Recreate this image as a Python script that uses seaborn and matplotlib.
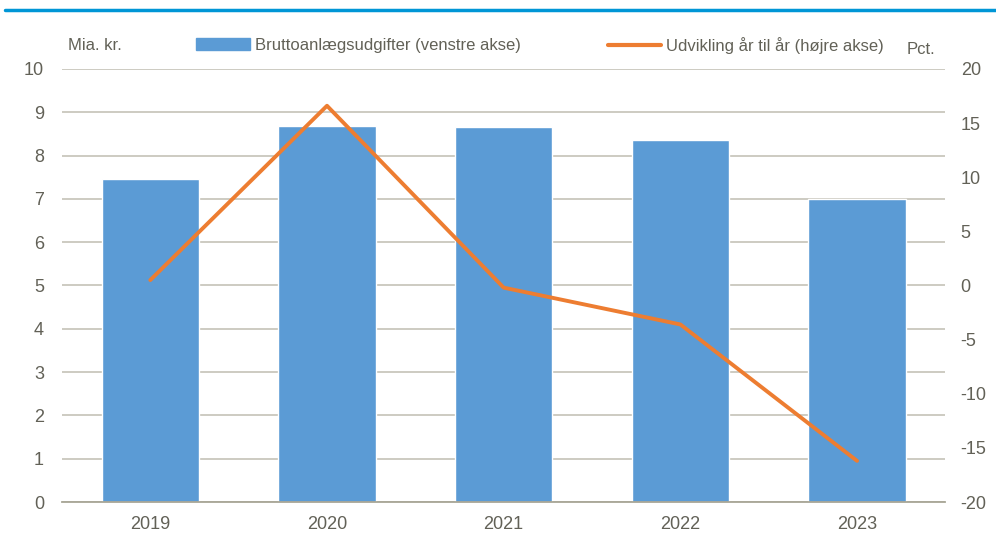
import pandas as pd
import seaborn as sns
import matplotlib.pyplot as plt
from matplotlib.lines import Line2D
from matplotlib.patches import Patch

# Data
years = ['2019', '2020', '2021', '2022', '2023']
gross_spend = [7.46, 8.68, 8.66, 8.36, 7.00]      # Mia. kr. (left axis)
yoy_change = [0.5, 16.6, -0.2, -3.6, -16.2]       # Pct. (right axis)

left_ticks = list(range(0, 11))
right_ticks = list(range(-20, 21, 5))

bar_label = 'Bruttoanlægsudgifter (venstre akse)'
line_label = 'Udvikling år til år (højre akse)'

df = pd.DataFrame({'year': years, 'spend': gross_spend, 'change': yoy_change})

sns.set_style('white')
plt.rcParams['font.family'] = ['Liberation Sans', 'DejaVu Sans']
plt.rcParams['axes.unicode_minus'] = False

text_col = '#626157'
grid_col = '#c9c7bd'
bar_col = '#5b9bd5'
line_col = '#ed7d31'
fs = 12

fig = plt.figure(figsize=(9.96, 5.43), dpi=100)
ax = fig.add_axes([0.0622, 0.0755, 0.887, 0.7975])

sns.barplot(data=df, x='year', y='spend', color=bar_col, width=0.55,
            saturation=1, ax=ax, zorder=2)
ax.set_ylim(0, 10)
ax.set_yticks(left_ticks)
ax.set_xlim(-0.5, 4.5)
ax.grid(axis='y', color=grid_col, linewidth=1.3, zorder=0)
ax.set_axisbelow(True)
ax.set_xlabel('')
ax.set_ylabel('')
for s in ['top', 'right', 'left']:
    ax.spines[s].set_visible(False)
ax.spines['bottom'].set_color('#a8a696')
ax.spines['bottom'].set_linewidth(1.3)
ax.tick_params(axis='both', length=0, labelsize=13, colors=text_col)
ax.tick_params(axis='y', pad=13)
ax.tick_params(axis='x', pad=10)

ax2 = ax.twinx()
sns.lineplot(data=df, x='year', y='change', color=line_col, linewidth=2.8,
             sort=False, ax=ax2)
ax2.set_ylim(-20, 20)
ax2.set_yticks(right_ticks)
ax2.set_xlim(-0.5, 4.5)
ax2.set_ylabel('')
ax2.set_xlabel('')
for s in ax2.spines.values():
    s.set_visible(False)
ax2.tick_params(axis='y', length=0, labelsize=13, colors=text_col, pad=11)

# legend entries placed separately, like the reference
fig.legend(handles=[Patch(color=bar_col, label=bar_label)],
           loc='center left', bbox_to_anchor=(0.197, 0.917),
           frameon=False, fontsize=fs, labelcolor=text_col,
           handlelength=3.2, handletextpad=0.3, borderpad=0, borderaxespad=0)
fig.legend(handles=[Line2D([], [], color=line_col, linewidth=3, label=line_label)],
           loc='center left', bbox_to_anchor=(0.610, 0.917),
           frameon=False, fontsize=fs, labelcolor=text_col,
           handlelength=3.2, handletextpad=0.3, borderpad=0, borderaxespad=0)

fig.text(0.068, 0.917, 'Mia. kr.', fontsize=fs, color=text_col, va='center')
fig.text(0.910, 0.908, 'Pct.', fontsize=fs, color=text_col, va='center')

# blue rule under the (cropped) heading
fig.add_artist(Line2D([0.005, 1.0], [0.981, 0.981], color='#0096d6', linewidth=2.5,
                      transform=fig.transFigure))

fig.savefig('out.png', dpi=100)
